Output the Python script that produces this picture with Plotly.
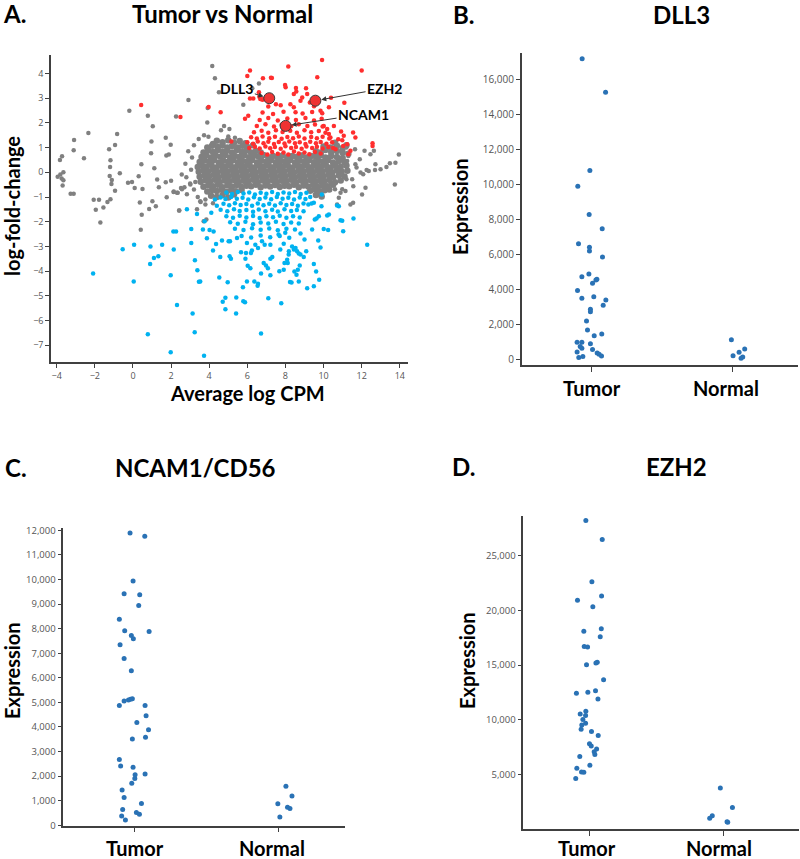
import plotly.graph_objects as go

# ---------------- Panel A data (Average log CPM, log-fold-change) ----------------
grey_core = [
(4.4,1.28),(4.7,1.22),(5.0,1.3),(5.3,1.2),(5.6,1.27),(5.9,1.18),(4.2,1.15),(10.6,1.2),(11.2,1.1),
(3.9,1.0),(4.15,1.08),(4.45,1.02),(4.7,1.1),(4.95,1.0),(5.2,1.07),(5.5,1.0),(5.75,1.08),(6.0,1.02),(6.3,1.1),(10.0,1.05),(10.35,1.0),(10.7,1.08),(11.0,0.98),
(3.7,0.8),(3.95,0.88),(4.2,0.82),(4.45,0.9),(4.7,0.84),(4.95,0.88),(5.2,0.8),(5.45,0.9),(5.7,0.83),(5.95,0.88),(6.2,0.8),(6.45,0.86),(6.7,0.8),(9.6,0.85),(9.85,0.8),(10.1,0.9),(10.4,0.82),(10.7,0.86),(11.0,0.8),(11.3,0.75),
(3.6,0.62),(3.85,0.68),(4.1,0.6),(4.35,0.67),(4.6,0.63),(4.85,0.7),(5.1,0.6),(5.35,0.66),(5.6,0.62),(5.85,0.69),(6.1,0.61),(6.35,0.67),(6.6,0.63),(6.85,0.7),(7.1,0.6),(7.35,0.66),(7.6,0.62),(7.85,0.68),(8.1,0.6),(8.35,0.66),(8.6,0.62),(8.85,0.68),(9.1,0.6),(9.35,0.66),(9.6,0.63),(9.85,0.69),(10.1,0.6),(10.4,0.66),(10.7,0.62),(11.0,0.58),
(3.5,0.42),(3.75,0.48),(4.0,0.44),(4.25,0.5),(4.5,0.4),(4.75,0.47),(5.0,0.43),(5.25,0.49),(5.5,0.41),(5.75,0.46),(6.0,0.44),(6.25,0.5),(6.5,0.4),(6.75,0.47),(7.0,0.43),(7.25,0.49),(7.5,0.41),(7.75,0.46),(8.0,0.44),(8.25,0.5),(8.5,0.4),(8.75,0.47),(9.0,0.43),(9.25,0.49),(9.5,0.41),(9.75,0.46),(10.0,0.44),(10.25,0.5),(10.5,0.4),(10.8,0.46),(11.1,0.42),
(3.4,0.22),(3.62,0.28),(3.87,0.24),(4.12,0.3),(4.37,0.2),(4.62,0.27),(4.87,0.23),(5.12,0.29),(5.37,0.21),(5.62,0.26),(5.87,0.24),(6.12,0.3),(6.37,0.2),(6.62,0.27),(6.87,0.23),(7.12,0.29),(7.37,0.21),(7.62,0.26),(7.87,0.24),(8.12,0.3),(8.37,0.2),(8.62,0.27),(8.87,0.23),(9.12,0.29),(9.37,0.21),(9.62,0.26),(9.87,0.24),(10.12,0.3),(10.37,0.2),(10.62,0.27),(10.9,0.23),(11.2,0.28),
(3.45,0.02),(3.7,0.08),(3.95,0.04),(4.2,0.1),(4.45,0.0),(4.7,0.07),(4.95,0.03),(5.2,0.09),(5.45,0.01),(5.7,0.06),(5.95,0.04),(6.2,0.1),(6.45,0.0),(6.7,0.07),(6.95,0.03),(7.2,0.09),(7.45,0.01),(7.7,0.06),(7.95,0.04),(8.2,0.1),(8.45,0.0),(8.7,0.07),(8.95,0.03),(9.2,0.09),(9.45,0.01),(9.7,0.06),(9.95,0.04),(10.2,0.1),(10.45,0.0),(10.7,0.07),(10.95,0.03),(11.25,0.06),
(3.5,-0.18),(3.75,-0.12),(4.0,-0.16),(4.25,-0.1),(4.5,-0.2),(4.75,-0.13),(5.0,-0.17),(5.25,-0.11),(5.5,-0.19),(5.75,-0.14),(6.0,-0.16),(6.25,-0.1),(6.5,-0.2),(6.75,-0.13),(7.0,-0.17),(7.25,-0.11),(7.5,-0.19),(7.75,-0.14),(8.0,-0.16),(8.25,-0.1),(8.5,-0.2),(8.75,-0.13),(9.0,-0.17),(9.25,-0.11),(9.5,-0.19),(9.75,-0.14),(10.0,-0.16),(10.25,-0.1),(10.5,-0.2),(10.8,-0.13),(11.1,-0.17),
(3.55,-0.38),(3.8,-0.32),(4.05,-0.36),(4.3,-0.3),(4.55,-0.4),(4.8,-0.33),(5.05,-0.37),(5.3,-0.31),(5.55,-0.39),(5.8,-0.34),(6.05,-0.36),(6.3,-0.3),(6.55,-0.4),(6.8,-0.33),(7.05,-0.37),(7.3,-0.31),(7.55,-0.39),(7.8,-0.34),(8.05,-0.36),(8.3,-0.3),(8.55,-0.4),(8.8,-0.33),(9.05,-0.37),(9.3,-0.31),(9.55,-0.39),(9.8,-0.34),(10.05,-0.36),(10.3,-0.3),(10.6,-0.4),(10.9,-0.33),
(3.7,-0.58),(3.95,-0.52),(4.2,-0.56),(4.45,-0.5),(4.7,-0.6),(4.95,-0.53),(5.2,-0.57),(5.45,-0.51),(5.7,-0.59),(5.95,-0.54),(6.2,-0.56),(6.45,-0.5),(6.7,-0.6),(6.95,-0.53),(7.2,-0.57),(7.45,-0.51),(7.7,-0.59),(7.95,-0.54),(8.2,-0.56),(8.45,-0.5),(8.7,-0.6),(8.95,-0.53),(9.2,-0.57),(9.45,-0.51),(9.7,-0.59),(9.95,-0.54),(10.2,-0.56),(10.5,-0.5),
(3.9,-0.78),(4.15,-0.72),(4.4,-0.76),(4.65,-0.7),(4.9,-0.8),(5.15,-0.73),(5.4,-0.77),(5.7,-0.72),(9.3,-0.75),(9.55,-0.7),(9.8,-0.78),(10.05,-0.73),(10.3,-0.7),
(4.1,-0.95),(4.4,-1.0),(4.7,-0.92),(5.0,-1.02),(5.3,-0.9),(9.6,-0.92),(9.9,-0.98),
]

grey_sparse = [
(-0.19,2.49),(0.78,2.29),(1.04,1.87),(-2.34,1.59),(-0.83,1.55),(-3.09,1.31),(-0.94,1.11),(0.97,1.25),(-3.11,0.89),(-1.25,0.93),
(-2.57,0.57),(-3.72,0.65),(-3.83,0.5),(-1.18,0.49),(0.95,0.77),(1.72,1.4),(1.98,1.12),(1.75,0.68),(1.88,0.72),(-1.2,0.22),
(0.44,0.33),(1.12,0.16),(-3.65,0.0),(-3.95,-0.18),(-3.81,-0.09),(-3.74,-0.25),(-3.65,-0.32),(-3.69,-0.53),(-0.69,-0.04),(-1.22,-0.15),
(-1.11,-0.31),(-1.13,-0.47),(-0.94,-0.75),(-0.26,-0.42),(-0.05,-0.39),(0.09,-0.64),(0.3,-0.16),(0.5,-0.68),(1.27,-0.29),(1.36,-0.6),
(1.72,-0.4),(2.0,-0.34),(1.77,-1.01),(2.14,-0.78),(2.35,-0.83),(-3.27,-0.87),(-3.11,-0.87),(-2.06,-1.11),(-1.78,-1.11),(-1.95,-1.52),
(-1.55,-1.42),(-1.34,-1.2),(-1.18,-1.09),(-1.71,-2.03),(0.36,-1.22),(1.02,-1.17),(1.2,-1.37),(0.85,-1.49),(0.46,-1.72),(0.41,-2.33),
(2.42,-1.55),(2.52,-0.64),(2.56,-0.09),
(4.16,4.3),(4.3,3.81),(4.51,3.24),(2.91,2.93),(3.92,2.6),(3.9,2.02),(4.78,1.88),(5.06,1.75),(5.79,2.74),(6.61,3.6),
(6.26,3.4),(2.26,2.26),(3.73,1.5),(3.96,1.44),(4.62,1.7),(5.0,1.45),(5.35,1.4),(3.45,1.35),(3.2,1.1),(2.9,0.85),
(3.1,0.6),(2.75,0.35),(3.05,0.1),(2.8,-0.2),(3.0,-0.45),(3.2,-0.7),(2.7,-0.6),(3.4,-1.0),(3.55,-1.2),(3.8,-1.3),(4.2,-1.25),
(2.13,-0.8),(2.31,-0.83),(2.57,-0.69),(2.83,-0.89),(2.43,-1.55),(3.36,-1.5),(3.53,-1.17),(3.8,-1.1),(3.85,-1.91),(3.71,-1.98),
(3.01,-0.49),(3.27,-0.39),
(13.48,0.37),(13.3,0.22),(13.74,-0.49),(12.7,0.09),(12.26,0.09),(12.08,-0.08),(11.73,0.19),(11.3,0.66),(11.65,0.93),(11.2,1.0),
(11.56,-0.56),(10.6,-0.69),(11.2,-0.28),(10.51,-0.15),(13.77,0.39),(12.99,0.12),(12.72,0.33),(12.46,0.73),(12.64,0.87),(12.15,0.87),
(11.9,0.53),(11.67,0.33),(11.24,0.46),(12.37,0.05),(11.94,-0.01),(12.2,-0.62),(12.02,-0.9),(11.41,-1.3),(11.55,-1.23),(10.89,-0.83),
(10.98,-0.69),(11.15,-0.76),(10.8,-1.03),(10.71,-1.3),(10.19,-0.56),(10.36,-0.42),(10.45,-0.49),(10.1,-0.69),(9.66,-0.35),(9.84,-0.42),
(11.5,-0.28),(13.95,0.72),
]

red_up = [
(0.43,2.73),(2.49,2.24),(9.92,4.55),(12.0,4.12),(8.15,4.28),(6.14,4.12),(6.0,3.9),(7.24,3.83),(9.67,3.85),(7.98,3.54),
(8.01,3.44),(8.55,3.41),(8.57,3.27),(9.08,3.4),(10.39,3.02),(11.09,2.82),(6.63,3.06),(6.79,2.94),(6.14,2.99),(6.31,2.99),
(3.97,2.64),(4.6,2.43),(12.57,1.18),(12.57,1.07),(11.3,0.73),(11.03,1.07),(10.77,1.34),(5.88,2.17),(6.05,2.29),(5.16,1.25),
(6.82,3.81),(6.61,3.24),(6.68,2.97),(6.86,2.97),(7.5,2.76),(7.29,3.82),(9.84,2.49),(9.93,2.39),(10.28,2.63),(10.54,1.88),
(10.92,1.65),(11.55,1.61),(11.67,1.41),(11.06,1.48),(10.98,1.3),(11.24,1.14),(10.63,0.93),(11.41,0.87),(10.28,1.55),(10.36,1.41),
(10.01,1.88),(10.19,1.75),(9.14,3.17),(9.28,2.83),(8.88,3.03),(8.79,2.9),(8.44,3.17),(8.26,2.76),(8.44,2.63),(8.53,2.43),
(6.75,0.78),(7.05,0.72),(7.3,0.82),(7.6,0.75),(7.9,0.8),(8.15,0.72),(8.45,0.84),(8.7,0.76),(9.0,0.8),(9.25,0.73),(9.55,0.82),(9.85,0.76),
(6.1,0.98),(6.4,1.04),(6.65,0.96),(6.95,1.05),(7.2,0.97),(7.45,1.03),(7.75,0.95),(8.0,1.06),(8.3,0.98),(8.55,1.02),(8.85,0.95),(9.1,1.05),(9.4,0.98),(9.65,1.04),(9.95,0.96),(10.25,1.03),(10.5,0.98),
(6.0,1.22),(6.3,1.16),(6.55,1.25),(6.85,1.18),(7.1,1.24),(7.4,1.15),(7.65,1.23),(7.95,1.17),(8.2,1.25),(8.5,1.18),(8.75,1.22),(9.05,1.15),(9.3,1.24),(9.6,1.18),(9.85,1.23),(10.15,1.16),(10.45,1.22),
(6.2,1.42),(6.5,1.37),(6.8,1.45),(7.15,1.38),(7.45,1.44),(7.8,1.36),(8.1,1.43),(8.4,1.38),(8.7,1.45),(9.0,1.37),(9.35,1.43),(9.65,1.38),(9.95,1.44),(10.3,1.37),
(6.35,1.62),(6.75,1.68),(7.1,1.6),(7.5,1.7),(7.85,1.63),(8.25,1.68),(8.6,1.6),(9.0,1.7),(9.35,1.62),(9.75,1.67),(10.1,1.6),
(6.5,1.88),(6.95,1.95),(7.4,1.86),(7.8,1.93),(8.3,1.87),(8.7,1.95),(9.15,1.88),(9.55,1.94),(9.95,1.86),
(6.65,2.12),(7.1,2.2),(7.6,2.1),(8.1,2.18),(8.55,2.12),(9.05,2.2),(9.5,2.1),(9.9,2.17),
(6.8,2.42),(7.35,2.36),(7.9,2.45),(8.9,2.38),(9.4,2.44),
(7.1,2.66),(7.75,2.72),(9.5,2.68),
]

blue_down = [
(2.12,-2.4),(2.26,-2.4),(-0.54,-3.11),(0.06,-2.93),(0.92,-3.0),(1.53,-2.93),(2.14,-3.13),(1.33,-3.4),(1.1,-3.47),(0.9,-3.71),
(-2.09,-4.1),(0.04,-4.42),(1.98,-4.17),(2.31,-5.37),(0.78,-6.56),(1.98,-7.29),(3.06,-2.29),(3.06,-2.86),(2.83,-1.5),(3.88,-2.67),
(4.02,-2.34),(4.23,-2.4),(4.36,-2.9),(4.2,-3.17),(4.67,-2.76),(5.02,-2.79),(5.09,-2.79),(4.58,-3.43),(5.07,-3.4),(5.14,-3.5),
(3.25,-3.56),(3.38,-3.97),(3.46,-4.43),(3.53,-4.42),(4.53,-4.26),(4.97,-4.45),(5.77,-4.65),(5.98,-4.42),(6.37,-4.42),(6.56,-4.51),
(6.54,-4.59),(4.85,-5.08),(4.71,-5.24),(5.42,-5.07),(4.85,-5.54),(5.41,-5.72),(5.79,-5.22),(5.88,-5.26),(7.1,-5.1),(7.78,-5.3),
(3.13,-5.72),(3.24,-6.48),(6.72,-6.53),(3.73,-7.43),(8.24,-4.44),(8.12,-3.67),(7.68,-4.01),(7.21,-4.17),(6.86,-3.67),(6.98,-3.77),
(7.08,-3.88),(7.21,-3.5),(7.31,-3.43),(6.72,-4.1),(6.16,-3.88),(6.02,-3.78),(6.24,-3.17),(6.19,-3.27),(5.93,-3.27),(5.9,-3.5),
(5.67,-3.24),(3.76,-1.98),(3.67,-2.32),(3.36,-1.69),(4.11,-1.64),(9.91,-0.9),(9.89,-1.37),(9.49,-1.23),(9.37,-1.26),(9.63,-1.87),
(9.54,-1.91),(9.75,-1.78),(10.28,-1.71),(10.19,-1.75),(10.8,-1.37),(10.71,-1.34),(10.89,-1.94),(10.98,-1.96),(11.57,-1.87),(11.03,-2.39),
(10.01,-2.29),(10.24,-2.34),(9.4,-2.32),(9.72,-2.76),(9.84,-3.04),(9.0,-2.72),(8.79,-2.48),(9.09,-3.2),(8.7,-3.29),(8.53,-3.06),
(8.44,-3.13),(8.61,-3.2),(8.35,-3.0),(8.96,-3.43),(8.79,-3.33),(7.95,-3.67),(7.91,-3.94),(8.75,-3.77),(8.65,-3.94),(8.58,-4.15),
(8.47,-4.02),(9.49,-3.71),(9.61,-4.02),(9.77,-4.35),(9.49,-4.61),(9.14,-4.69),(8.7,-4.42),(8.32,-4.46),(12.29,-2.93),(8.18,-3.2),
(8.09,-3.54),(7.73,-3.13),(7.91,-2.89),(8.17,-3.33),(5.46,-2.66),(5.98,-2.86),(6.42,-2.93),(6.56,-3.06),(6.77,-2.79),(6.91,-2.93),
(7.21,-2.93),(7.64,-2.52),(7.99,-2.45),
(4.9,-0.82),(5.2,-0.88),(5.5,-0.8),(5.8,-0.86),(6.1,-0.82),(6.4,-0.9),(6.7,-0.83),(7.0,-0.87),(7.3,-0.8),(7.6,-0.88),(7.9,-0.82),(8.2,-0.86),(8.5,-0.8),(8.8,-0.88),(9.1,-0.83),
(4.3,-1.1),(4.6,-1.02),(4.85,-1.08),(5.15,-1.0),(5.45,-1.07),(5.75,-1.03),(6.05,-1.1),(6.35,-1.01),(6.65,-1.08),(6.95,-1.02),(7.25,-1.09),(7.55,-1.0),(7.85,-1.07),(8.15,-1.03),(8.45,-1.1),(8.75,-1.02),(9.05,-1.08),(9.3,-1.0),
(4.4,-1.35),(4.75,-1.27),(5.05,-1.33),(5.35,-1.25),(5.65,-1.32),(5.95,-1.28),(6.25,-1.35),(6.55,-1.26),(6.85,-1.33),(7.15,-1.27),(7.45,-1.34),(7.75,-1.25),(8.05,-1.32),(8.35,-1.28),(8.65,-1.35),(8.95,-1.26),(9.2,-1.3),
(4.6,-1.52),(4.95,-1.58),(5.3,-1.5),(5.6,-1.57),(5.95,-1.53),(6.3,-1.6),(6.6,-1.51),(6.95,-1.58),(7.3,-1.52),(7.6,-1.59),(7.95,-1.5),(8.3,-1.57),(8.6,-1.53),(8.95,-1.58),
(4.9,-1.78),(5.25,-1.84),(5.6,-1.76),(5.95,-1.83),(6.3,-1.77),(6.65,-1.85),(7.0,-1.78),(7.35,-1.82),(7.7,-1.76),(8.05,-1.84),(8.4,-1.78),(8.75,-1.83),
(5.1,-2.02),(5.5,-2.08),(5.9,-2.0),(6.3,-2.1),(6.7,-2.03),(7.1,-2.07),(7.5,-2.0),(7.9,-2.09),(8.3,-2.03),(8.7,-2.07),
(5.35,-2.28),(5.8,-2.34),(6.25,-2.26),(6.7,-2.33),(7.15,-2.27),(7.6,-2.35),(8.05,-2.28),(8.5,-2.32),
(5.7,-2.58),(6.2,-2.64),(6.7,-2.56),(7.2,-2.63),(7.7,-2.58),(8.2,-2.65),
]

genes = ["DLL3", "EZH2", "NCAM1"]
gene_logcpm = [7.15, 9.57, 8.01]
gene_logfc = [3.0, 2.9, 1.88]
gene_label_logcpm = [5.45, 13.2, 12.1]
gene_label_logfc = [3.4, 3.4, 2.36]

# ---------------- Panels B-D data ----------------
categories = ["Tumor", "Normal"]

dll3_tumor_jitter = [-0.069,0.098,-0.014,-0.1,-0.019,0.074,-0.095,-0.017,-0.017,0.076,-0.021,-0.071,0.036,0.029,0.005,-0.102,0.014,-0.071,0.1,0.081,
                     -0.01,-0.01,-0.038,-0.031,0.071,0.017,-0.105,-0.071,-0.01,-0.083,-0.071,0.005,-0.105,0.038,0.052,0.069,-0.093,-0.064]
dll3_tumor = [17220,15290,10800,9900,8280,7470,6610,6400,6190,5850,4870,4720,4570,4530,4340,3920,3570,3480,3380,3080,
              2850,2710,2180,1660,1430,1340,960,960,880,710,610,540,400,340,270,170,80,150]
dll3_normal_jitter = [-0.005,0.007,0.05,0.09,0.064,0.076]
dll3_normal = [1110,190,380,570,40,110]

ncam1_tumor_jitter = [-0.028,0.074,-0.007,-0.069,0.039,0.032,-0.102,-0.065,0.104,-0.019,-0.005,-0.097,-0.069,-0.019,-0.025,-0.012,-0.039,-0.069,-0.102,0.076,
                      0.083,0.019,0.1,0.079,-0.012,-0.102,-0.093,-0.007,0.007,0.005,0.076,-0.016,-0.083,-0.069,0.051,-0.079,0.016,0.037,-0.086,-0.06]
ncam1_tumor = [11890,11760,9940,9420,9380,8940,8380,7910,7880,7720,7590,7350,6790,6290,5130,5150,5100,5060,4870,4870,
               4460,4180,3890,3580,3510,2680,2410,2360,2060,1900,2090,1710,1440,1130,890,640,520,450,380,220]
ncam1_normal_jitter = [0.051,0.093,-0.005,0.062,0.079,0.009]
ncam1_normal = [1590,1190,880,730,680,340]

ezh2_tumor_jitter = [-0.025,0.097,0.02,-0.087,0.092,0.027,0.09,-0.04,0.082,-0.037,-0.012,0.06,0.05,-0.02,0.107,-0.095,-0.01,0.047,0.065,-0.025,
                     -0.067,-0.027,-0.047,-0.027,-0.055,-0.06,0.017,0.067,0.002,0.015,0.055,0.037,0.042,-0.07,0.005,-0.092,-0.057,-0.04,-0.1]
ezh2_tumor = [28190,26460,22600,20900,21290,20320,18310,18070,17580,16700,16640,15240,15180,15030,13660,12420,12510,12660,11900,10780,
              10530,10380,10020,9680,9530,9130,8920,8560,7800,7610,7340,7070,6820,6640,5850,5580,5240,5210,4630]
ezh2_normal_jitter = [-0.025,0.065,-0.085,-0.104,0.025,0.03]
ezh2_normal = [3780,1990,1230,1020,680,650]

# ---------------- figure ----------------
W, H = 800, 859
GREY, RED, BLUE, DOT = "#808080", "#ff2e2e", "#00b2f0", "#2a72b5"
AX = "#404040"
TITLE_FONT = "Lato, Carlito, 'Open Sans', sans-serif"
TICK_FONT = "'Open Sans', 'DejaVu Sans', sans-serif"

def xs(p): return [a for a, b in p]
def ys(p): return [b for a, b in p]

fig = go.Figure()
fig.add_trace(go.Scatter(x=xs(grey_core), y=ys(grey_core), mode="markers",
                         marker=dict(color=GREY, size=6.5), xaxis="x", yaxis="y", hoverinfo="skip"))
fig.add_trace(go.Scatter(x=xs(grey_sparse), y=ys(grey_sparse), mode="markers",
                         marker=dict(color=GREY, size=4.5), xaxis="x", yaxis="y"))
fig.add_trace(go.Scatter(x=xs(red_up), y=ys(red_up), mode="markers",
                         marker=dict(color=RED, size=4.5), xaxis="x", yaxis="y"))
fig.add_trace(go.Scatter(x=xs(blue_down), y=ys(blue_down), mode="markers",
                         marker=dict(color=BLUE, size=4.5), xaxis="x", yaxis="y"))
fig.add_trace(go.Scatter(x=gene_logcpm, y=gene_logfc, mode="markers", text=genes,
                         marker=dict(color="#ee3333", size=11, line=dict(color="#3a3a3a", width=1)),
                         xaxis="x", yaxis="y"))

def cat_traces(tj, tv, nj, nv, xa, ya):
    fig.add_trace(go.Scatter(x=[0 + j for j in tj], y=tv, mode="markers", name=categories[0],
                             marker=dict(color=DOT, size=5), xaxis=xa, yaxis=ya))
    fig.add_trace(go.Scatter(x=[1 + j for j in nj], y=nv, mode="markers", name=categories[1],
                             marker=dict(color=DOT, size=5), xaxis=xa, yaxis=ya))

cat_traces(dll3_tumor_jitter, dll3_tumor, dll3_normal_jitter, dll3_normal, "x2", "y2")
cat_traces(ncam1_tumor_jitter, ncam1_tumor, ncam1_normal_jitter, ncam1_normal, "x3", "y3")
cat_traces(ezh2_tumor_jitter, ezh2_tumor, ezh2_normal_jitter, ezh2_normal, "x4", "y4")

def px_dom_x(a, b): return [a / W, b / W]
def px_dom_y(top, bottom): return [1 - bottom / H, 1 - top / H]

common = dict(showline=True, linecolor=AX, linewidth=1.5, ticks="outside", ticklen=4,
              tickcolor=AX, tickwidth=1, showgrid=False, zeroline=False, automargin=False,
              tickfont=dict(family=TICK_FONT, size=9, color="#555555"))

cat_axis = dict(common, tickvals=[0, 1], ticktext=["", ""], ticklen=5)

fig.update_layout(
    width=W, height=H, margin=dict(l=0, r=0, t=0, b=0, autoexpand=False),
    paper_bgcolor="white", plot_bgcolor="white", showlegend=False,
    xaxis=dict(common, domain=px_dom_x(51, 408), range=[-4.3, 14.43], tick0=-4, dtick=2, anchor="y"),
    yaxis=dict(common, domain=px_dom_y(55, 362), range=[-7.68, 4.75], tick0=0, dtick=1, anchor="x"),
    xaxis2=dict(cat_axis, domain=px_dom_x(521.7, 798), range=[-0.5, 1.47], anchor="y2"),
    yaxis2=dict(common, domain=px_dom_y(52.7, 365), range=[-344, 17560], tick0=0, dtick=2000,
                tickformat=",d", anchor="x2", tickfont=dict(family=TICK_FONT, size=10, color="#555555")),
    xaxis3=dict(cat_axis, domain=px_dom_x(63.3, 345), range=[-0.49, 1.46], anchor="y3"),
    yaxis3=dict(common, domain=px_dom_y(527.7, 825.7), range=[-16, 12107], tick0=0, dtick=1000,
                tickformat=",d", anchor="x3", tickfont=dict(family=TICK_FONT, size=9.5, color="#555555")),
    xaxis4=dict(cat_axis, domain=px_dom_x(523.3, 799), range=[-0.49, 1.56], anchor="y4"),
    yaxis4=dict(common, domain=px_dom_y(515.7, 829.3), range=[0, 28630], tickvals=[5000, 10000, 15000, 20000, 25000],
                tickformat=",d", anchor="x4", tickfont=dict(family=TICK_FONT, size=9.5, color="#555555")),
)

anns = []
def txt(text, X, Y, size, angle=0, xanchor="center"):
    anns.append(dict(text=text, x=X / W, y=1 - Y / H, xref="paper", yref="paper", showarrow=False,
                     xanchor=xanchor, yanchor="middle", textangle=angle,
                     font=dict(family=TITLE_FONT, size=size, color="black")))

# panel letters and titles
txt("<b>A.</b>", 14, 13, 24)
txt("<b>Tumor vs Normal</b>", 222, 13, 24)
txt("<b>B.</b>", 464, 14, 24)
txt("<b>DLL3</b>", 681, 14, 24)
txt("<b>C.</b>", 16, 467, 24)
txt("<b>NCAM1/CD56</b>", 195, 467, 24)
txt("<b>D.</b>", 464, 466, 24)
txt("<b>EZH2</b>", 676, 466, 24)
# axis titles
txt("<b>log-fold-change</b>", 12, 206, 20, angle=-90)
txt("<b>Average log CPM</b>", 247, 393, 20)
txt("<b>Expression</b>", 460, 206, 20, angle=-90)
txt("<b>Expression</b>", 12, 671, 20, angle=-90)
txt("<b>Expression</b>", 467, 661, 20, angle=-90)
# category labels
for xa, X0, X1, Y in (("x2", 591.7, 726, 388), ("x3", 135, 272, 848), ("x4", 587, 719, 848)):
    txt("<b>%s</b>" % categories[0], X0, Y, 20)
    txt("<b>%s</b>" % categories[1], X1, Y, 20)

# gene call-outs
for g, x, y, lx, ly in zip(genes, gene_logcpm, gene_logfc, gene_label_logcpm, gene_label_logfc):
    anns.append(dict(text="<b>%s</b>" % g, x=x, y=y, xref="x", yref="y", ax=lx, ay=ly, axref="x", ayref="y",
                     showarrow=True, arrowhead=2, arrowsize=1, arrowwidth=1, arrowcolor="#333333", standoff=6,
                     font=dict(family=TITLE_FONT, size=14, color="black")))

fig.update_layout(annotations=anns)
fig.write_html("out.html", config={"displayModeBar": False},
               post_script="document.body.style.margin='0';document.body.style.overflow='hidden';")
